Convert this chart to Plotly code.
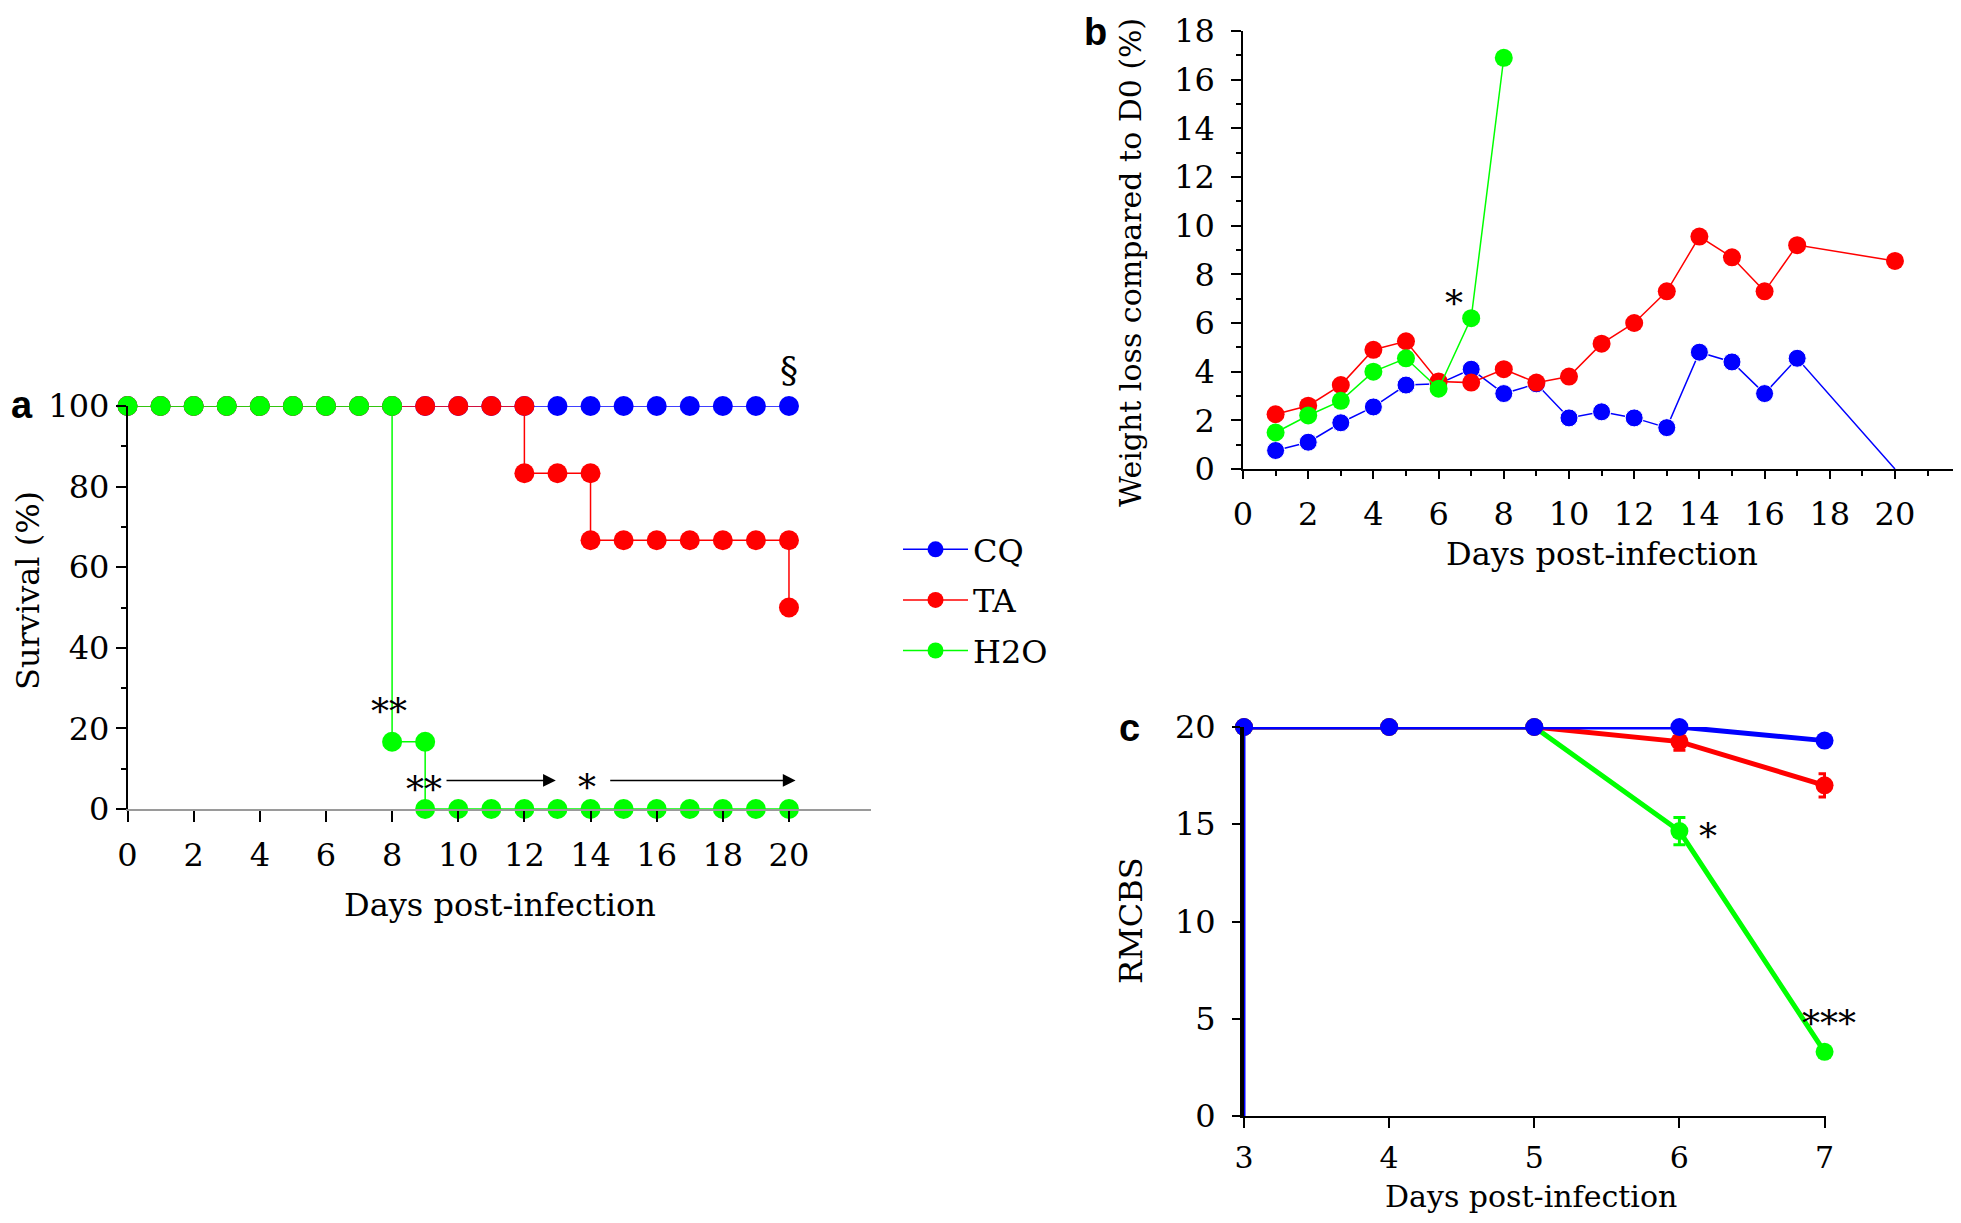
import plotly.graph_objects as go

W, H = 1961, 1223
OFF = 8  # default page margin around the plot div

# ---- panel a: survival ----
cq_surv_days = [0, 1, 2, 3, 4, 5, 6, 7, 8, 9, 10, 11, 12, 13, 14, 15, 16, 17, 18, 19, 20]
cq_surv = [100, 100, 100, 100, 100, 100, 100, 100, 100, 100, 100,
           100, 100, 100, 100, 100, 100, 100, 100, 100, 100]
ta_surv_days = [0, 1, 2, 3, 4, 5, 6, 7, 8, 9, 10, 11, 12, 12, 13, 14, 14, 15, 16, 17, 18, 19, 20, 20]
ta_surv = [100, 100, 100, 100, 100, 100, 100, 100, 100, 100, 100, 100, 100,
           83.3, 83.3, 83.3, 66.7, 66.7, 66.7, 66.7, 66.7, 66.7, 66.7, 50]
h2o_surv_days = [0, 1, 2, 3, 4, 5, 6, 7, 8, 8, 9, 9, 10, 11, 12, 13, 14, 15, 16, 17, 18, 19, 20]
h2o_surv = [100, 100, 100, 100, 100, 100, 100, 100, 100, 16.7, 16.7,
            0, 0, 0, 0, 0, 0, 0, 0, 0, 0, 0, 0]

# ---- panel b: weight loss ----
cq_w_days = [1, 2, 3, 4, 5, 6, 7, 8, 9, 10, 11, 12, 13, 14, 15, 16, 17, 20]
cq_w = [0.76, 1.1, 1.9, 2.55, 3.45, 3.5, 4.1, 3.1, 3.5, 2.1, 2.35, 2.1, 1.7, 4.8, 4.4, 3.1, 4.55, 0]
ta_w_days = [1, 2, 3, 4, 5, 6, 7, 8, 9, 10, 11, 12, 13, 14, 15, 16, 17, 20]
ta_w = [2.25, 2.6, 3.45, 4.9, 5.25, 3.6, 3.55, 4.1, 3.55, 3.8, 5.15, 6.0, 7.3, 9.55, 8.7, 7.3, 9.2, 8.55]
h2o_w_days = [1, 2, 3, 4, 5, 6, 7, 8]
h2o_w = [1.5, 2.2, 2.8, 4.0, 4.55, 3.3, 6.2, 16.9]

# ---- panel c: RMCBS ----
c_days = [3, 4, 5, 6, 7]
cq_score = [20, 20, 20, 20, 19.3]
cq_err = [0, 0, 0, 0, 0]
ta_score = [20, 20, 20, 19.25, 17.0]
ta_err = [0, 0, 0, 0.45, 0.6]
h2o_score = [20, 20, 20, 14.65, 3.3]
h2o_err = [0, 0, 0, 0.7, 0]

BLUE, RED, GREEN = "#0000ff", "#ff0000", "#00ff00"
FONT = "DejaVu Serif"
FW, FH = W - 2 * OFF, H - 2 * OFF


def px(x):
    return min(1.0, max(0.0, (x - OFF) / FW))


def py(y):
    return min(1.0, max(0.0, 1 - (y - OFF) / FH))


fig = go.Figure()

# panel a
for name, xs, ys, col in [("CQ", cq_surv_days, cq_surv, BLUE),
                          ("TA", ta_surv_days, ta_surv, RED),
                          ("H2O", h2o_surv_days, h2o_surv, GREEN)]:
    fig.add_trace(go.Scatter(x=xs, y=ys, name=name, legendgroup=name, mode="lines+markers",
                             line=dict(color=col, width=1.5),
                             marker=dict(color=col, size=20, opacity=1),
                             cliponaxis=False, xaxis="x", yaxis="y"))

# panel b
cq_sizes = [18] * (len(cq_w) - 1) + [0]
for xs, ys, col, sz in [(cq_w_days, cq_w, BLUE, cq_sizes),
                        (ta_w_days, ta_w, RED, 18),
                        (h2o_w_days, h2o_w, GREEN, 18)]:
    fig.add_trace(go.Scatter(x=xs, y=ys, mode="lines+markers", showlegend=False,
                             line=dict(color=col, width=1.5),
                             marker=dict(color=col, size=sz, opacity=1),
                             cliponaxis=False, xaxis="x2", yaxis="y2"))

# panel c
for ys, err, col in [(h2o_score, h2o_err, GREEN),
                     (ta_score, ta_err, RED),
                     (cq_score, cq_err, BLUE)]:
    fig.add_trace(go.Scatter(x=c_days, y=ys, mode="lines+markers", showlegend=False,
                             line=dict(color=col, width=5),
                             marker=dict(color=col, size=18, opacity=1),
                             error_y=dict(type="data", array=err, color=col,
                                          thickness=3, width=6, visible=True),
                             cliponaxis=False, xaxis="x3", yaxis="y3"))

tickfont = dict(family=FONT, size=32, color="black")

axis_common = dict(showgrid=False, zeroline=False, ticks="outside", automargin=False,
                   tickcolor="black", mirror=False)

fig.update_layout(
    width=FW, height=FH, autosize=False,
    margin=dict(l=0, r=0, t=0, b=0),
    paper_bgcolor="white", plot_bgcolor="white",
    font=dict(family=FONT, color="black"),
    xaxis=dict(domain=[px(127.5), px(871)], range=[0, 22.48], anchor="y",
               tickvals=[0, 2, 4, 6, 8, 10, 12, 14, 16, 18, 20],
               showline=True, linecolor="#9a9a9a", linewidth=1.5, ticklen=11,
               tickwidth=1.5, ticklabelstandoff=6, tickfont=tickfont, **axis_common),
    yaxis=dict(domain=[py(809), py(406)], range=[0, 100], anchor="x",
               dtick=20, showline=True, linecolor="black", linewidth=1.5,
               ticklen=10, tickwidth=1.5, ticklabelstandoff=0, tickfont=tickfont,
               minor=dict(dtick=10, ticks="outside", ticklen=5, tickcolor="black"),
               **axis_common),
    xaxis2=dict(domain=[px(1243), px(1953)], range=[0, 21.78], anchor="y2",
                dtick=2, showline=True, linecolor="black", linewidth=1.5,
                ticklen=8, tickwidth=1.5, ticklabelstandoff=8, tickfont=tickfont,
                minor=dict(dtick=1, ticks="outside", ticklen=5, tickcolor="black"),
                **axis_common),
    yaxis2=dict(domain=[py(469), py(31)], range=[0, 18], anchor="x2",
                dtick=2, showline=True, linecolor="black", linewidth=1.5,
                ticklen=10, tickwidth=1.5, ticklabelstandoff=10, tickfont=tickfont,
                minor=dict(dtick=1, ticks="outside", ticklen=5, tickcolor="black"),
                **axis_common),
    xaxis3=dict(domain=[px(1244), px(1826)], range=[3, 7.01], anchor="y3",
                dtick=1, showline=True, linecolor="black", linewidth=1.5,
                ticklen=10, tickwidth=1.5, ticklabelstandoff=4,
                tickfont=dict(family=FONT, size=30, color="black"), **axis_common),
    yaxis3=dict(domain=[py(1116), py(727)], range=[0, 20], anchor="x3",
                dtick=5, showline=True, linecolor="black", linewidth=4,
                ticklen=8, tickwidth=1.5, ticklabelstandoff=10, tickfont=tickfont,
                **axis_common),
    legend=dict(x=px(898), y=py(522), xanchor="left", yanchor="top",
                font=dict(family=FONT, size=32, color="black"),
                itemwidth=65, tracegroupgap=6, bgcolor="rgba(0,0,0,0)"),
)

# blue line drawn along the panel c y axis
fig.add_shape(type="line", xref="x3", yref="y3", x0=3, x1=3, y0=0, y1=20,
              line=dict(color=BLUE, width=3))

titles = [
    ("Survival (%)", px(28), py(591), -90, 32),
    ("Days post-infection", px(500), py(905), 0, 32),
    ("Weight loss compared to D0 (%)", px(1131), py(263), -90, 30),
    ("Days post-infection", px(1602), py(554), 0, 32),
    ("RMCBS", px(1131), py(921), -90, 32),
    ("Days post-infection", px(1531), py(1196), 0, 30),
]
for text, x, y, ang, size in titles:
    fig.add_annotation(text=text, x=x, y=y, xref="paper", yref="paper",
                       showarrow=False, textangle=ang,
                       font=dict(family=FONT, size=size, color="black"),
                       xanchor="center", yanchor="middle")

panel_labels = [("a", px(22), py(405)), ("b", px(1095), py(32)), ("c", px(1129), py(728))]
for text, x, y in panel_labels:
    fig.add_annotation(text="<b>%s</b>" % text, x=x, y=y, xref="paper", yref="paper",
                       showarrow=False, xanchor="center", yanchor="middle",
                       font=dict(family="Liberation Sans", size=38, color="black"))

# significance marks (anchored on in-range points, nudged in pixels)
star_font = dict(family=FONT, size=36, color="black")
stars = [
    ("**", 7.9, 20, 0, 17, "x", "y"),
    ("**", 8.95, 0, 0, 20, "x", "y"),
    ("*", 13.9, 0, 0, 22, "x", "y"),
    ("§", 20, 100, 0, 37, "x", "y"),
    ("*", 6.47, 6.0, 0, 20, "x2", "y2"),
    ("*", 6.2, 14.2, 0, 3, "x3", "y3"),
    ("***", 7.0, 3.3, 4, 28, "x3", "y3"),
]
for text, x, y, dx, dy, xr, yr in stars:
    fig.add_annotation(text=text, x=x, y=y, xref=xr, yref=yr, showarrow=False,
                       xshift=dx, yshift=dy,
                       font=star_font, xanchor="center", yanchor="middle")

arrows = [(9.6, 12.95, 7.1), (14.55, 20.2, 7.1)]
for x0, x1, y in arrows:
    fig.add_annotation(x=x1, y=y, ax=x0, ay=y, xref="x", yref="y", axref="x", ayref="y",
                       showarrow=True, arrowhead=2, arrowsize=1.7, arrowwidth=1.5,
                       arrowcolor="black", text="")

fig.write_html("out.html")
